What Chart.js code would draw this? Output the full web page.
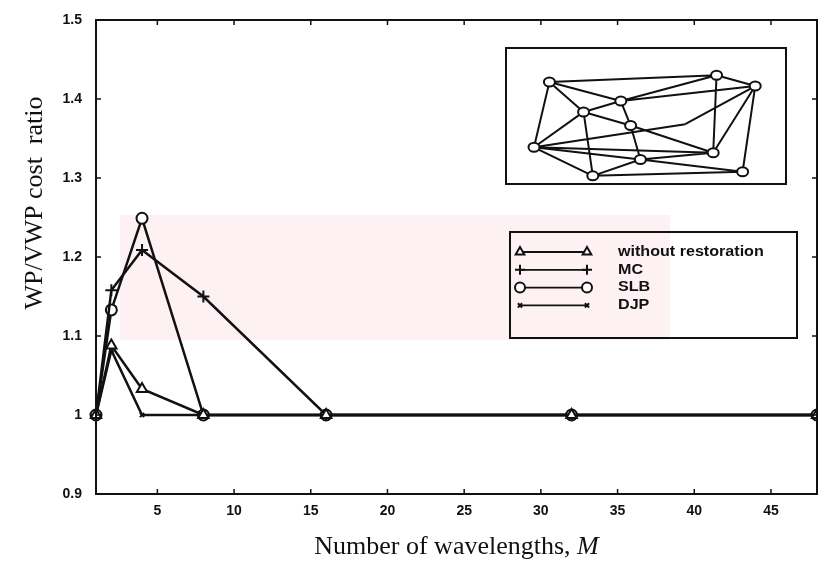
<!DOCTYPE html>
<html>
<head>
<meta charset="utf-8">
<script src="https://cdn.jsdelivr.net/npm/chart.js@4/dist/chart.umd.min.js"></script>
<style>
  html, body { margin: 0; padding: 0; background: #fff; }
</style>
</head>
<body>
<canvas id="chart" width="818" height="569"></canvas>
<script>
// data
const wavelengths = [1, 2, 4, 8, 16, 32, 48];
const withoutRestoration = [1, 1.088, 1.033, 1, 1, 1, 1];
const mcRatio = [1, 1.158, 1.209, 1.150, 1, 1, 1];
const slbRatio = [1, 1.133, 1.249, 1, 1, 1, 1];
const djpRatio = [1, 1.082, 1, 1, 1, 1, 1];
const seriesNames = ["without restoration", "MC", "SLB", "DJP"];
const xTicks = [5, 10, 15, 20, 25, 30, 35, 40, 45];
const yTicks = [0.9, 1, 1.1, 1.2, 1.3, 1.4, 1.5];
const yTitle = "WP/VWP cost  ratio";
const xTitle = ["Number of wavelengths, ", "M"];

// small network picture in the top right inset (relative positions inside the box)
const netNodes = {
  A: [0.155, 0.25], B: [0.752, 0.2], C: [0.89, 0.28], D: [0.41, 0.39],
  E: [0.277, 0.47], F: [0.445, 0.57], G: [0.1, 0.73], H: [0.48, 0.82],
  I: [0.74, 0.77], J: [0.31, 0.94], K: [0.845, 0.91], X: [0.64, 0.56]
};
const netEdges = [
  ["A","D"],["A","E"],["A","G"],["A","B"],["B","C"],["D","B"],["D","C"],
  ["B","I"],["E","D"],["E","G"],["E","J"],["E","F"],["F","I"],["D","F"],
  ["F","H"],["G","H"],["G","I"],["G","J"],["J","H"],["H","I"],["H","K"],
  ["I","C"],["K","C"],["J","K"],["G","X"],["X","C"]
];

const serif = "'Liberation Serif', 'Times New Roman', serif";
const sans = "'Liberation Sans', Arial, sans-serif";

const makeSet = (label, data, style, radius) => ({
  label: label,
  data: wavelengths.map((x, i) => ({x: x, y: data[i]})),
  borderColor: "#111",
  borderWidth: 2.5,
  backgroundColor: "#fff",
  pointStyle: style,
  pointRadius: radius,
  pointBorderColor: "#111",
  pointBackgroundColor: "#fff",
  pointBorderWidth: 2,
  tension: 0,
  clip: false
});

const datasets = [
  makeSet(seriesNames[0], withoutRestoration, "triangle", 6),
  makeSet(seriesNames[1], mcRatio, "cross", 6),
  makeSet(seriesNames[2], slbRatio, "circle", 5.5),
  makeSet(seriesNames[3], djpRatio, "crossRot", 3)
];

/* frame, inward ticks, titles, inset and legend */
const decor = {
  id: "decor",
  beforeDatasetsDraw(chart) {
    const ctx = chart.ctx;
    const a = chart.chartArea;
    // faint pink stain from the scan
    ctx.save();
    ctx.fillStyle = "rgba(250, 215, 222, 0.35)";
    ctx.fillRect(a.left + 24, 215, 550, 125);
    ctx.restore();
  },
  afterDatasetsDraw(chart) {
    const ctx = chart.ctx;
    const a = chart.chartArea;
    const xs = chart.scales.x, ys = chart.scales.y;
    ctx.save();
    ctx.strokeStyle = "#111";
    ctx.lineWidth = 2;
    ctx.strokeRect(a.left, a.top, a.right - a.left, a.bottom - a.top);
    ctx.lineWidth = 1.5;
    ctx.beginPath();
    xTicks.forEach(v => {
      const px = xs.getPixelForValue(v);
      ctx.moveTo(px, a.bottom); ctx.lineTo(px, a.bottom - 5);
      ctx.moveTo(px, a.top); ctx.lineTo(px, a.top + 5);
    });
    yTicks.forEach(v => {
      const py = ys.getPixelForValue(v);
      ctx.moveTo(a.left, py); ctx.lineTo(a.left + 5, py);
      ctx.moveTo(a.right, py); ctx.lineTo(a.right - 5, py);
    });
    ctx.stroke();

    ctx.fillStyle = "#111";
    ctx.textBaseline = "middle";

    // y title, sits above the middle in the original
    ctx.save();
    ctx.translate(35, 203);
    ctx.rotate(-Math.PI / 2);
    ctx.font = "26px " + serif;
    ctx.textAlign = "center";
    ctx.fillText(yTitle, 0, 0);
    ctx.restore();

    // x title with italic M
    ctx.save();
    ctx.font = "26px " + serif;
    const w1 = ctx.measureText(xTitle[0]).width;
    ctx.font = "italic 26px " + serif;
    const w2 = ctx.measureText(xTitle[1]).width;
    const x0 = (a.left + a.right) / 2 - (w1 + w2) / 2;
    ctx.textAlign = "left";
    ctx.font = "26px " + serif;
    ctx.fillText(xTitle[0], x0, 547);
    ctx.font = "italic 26px " + serif;
    ctx.fillText(xTitle[1], x0 + w1, 547);
    ctx.restore();

    // inset with the network
    const bx = 506, by = 48, bw = 280, bh = 136;
    ctx.fillStyle = "#fff";
    ctx.fillRect(bx, by, bw, bh);
    ctx.lineWidth = 2;
    ctx.strokeRect(bx, by, bw, bh);
    const P = k => [bx + netNodes[k][0] * bw, by + netNodes[k][1] * bh];
    ctx.beginPath();
    netEdges.forEach(e => {
      const p = P(e[0]), q = P(e[1]);
      ctx.moveTo(p[0], p[1]); ctx.lineTo(q[0], q[1]);
    });
    ctx.stroke();
    Object.keys(netNodes).forEach(k => {
      if (k === "X") return;
      const p = P(k);
      ctx.beginPath();
      ctx.ellipse(p[0], p[1], 5.5, 4.5, 0, 0, Math.PI * 2);
      ctx.fill();
      ctx.stroke();
    });

    // legend box
    const lx = 510, ly = 232, lw = 287, lh = 106;
    ctx.lineWidth = 2;
    ctx.strokeRect(lx, ly, lw, lh);
    chart.data.datasets.forEach((ds, i) => {
      const y = 252 + i * 17.8;
      ctx.strokeStyle = "#111";
      ctx.lineWidth = 1.8;
      ctx.beginPath();
      ctx.moveTo(520, y); ctx.lineTo(587, y);
      ctx.stroke();
      [520, 587].forEach(x => {
        ctx.fillStyle = "#fff";
        ctx.lineWidth = 2;
        Chart.helpers.drawPoint(ctx, {
          pointStyle: ds.pointStyle,
          radius: ds.pointStyle === "crossRot" ? 3 : 5,
          rotation: 0,
          borderWidth: 2
        }, x, y);
      });
      ctx.save();
      ctx.translate(618, y);
      ctx.scale(1.15, 1);
      ctx.fillStyle = "#111";
      ctx.font = "bold 14px " + sans;
      ctx.fillText(ds.label, 0, 0);
      ctx.restore();
    });
    ctx.restore();
  }
};

new Chart(document.getElementById("chart"), {
  type: "line",
  data: { datasets: datasets },
  options: {
    responsive: false,
    animation: false,
    layout: { autoPadding: false, padding: { top: 20, right: 1, left: 0, bottom: 0 } },
    plugins: { legend: { display: false }, tooltip: { enabled: false } },
    scales: {
      x: {
        type: "linear",
        min: 1,
        max: 48,
        afterFit: s => { s.height = 75; s.paddingLeft = 0; s.paddingRight = 0; },
        afterBuildTicks: s => { s.ticks = xTicks.map(v => ({value: v})); },
        grid: { display: false, drawTicks: false },
        border: { display: false },
        ticks: {
          color: "#111",
          padding: 9,
          maxRotation: 0,
          font: { family: sans, size: 14, weight: "bold" }
        },
        title: { display: false }
      },
      y: {
        min: 0.9,
        max: 1.5,
        afterFit: s => { s.width = 96; s.paddingTop = 0; s.paddingBottom = 0; },
        afterBuildTicks: s => { s.ticks = yTicks.map(v => ({value: v})); },
        grid: { display: false, drawTicks: false },
        border: { display: false },
        ticks: {
          color: "#111",
          padding: 14,
          font: { family: sans, size: 14, weight: "bold" },
          callback: v => String(Math.round(v * 10) / 10)
        },
        title: { display: false }
      }
    }
  },
  plugins: [decor]
});
</script>
</body>
</html>
